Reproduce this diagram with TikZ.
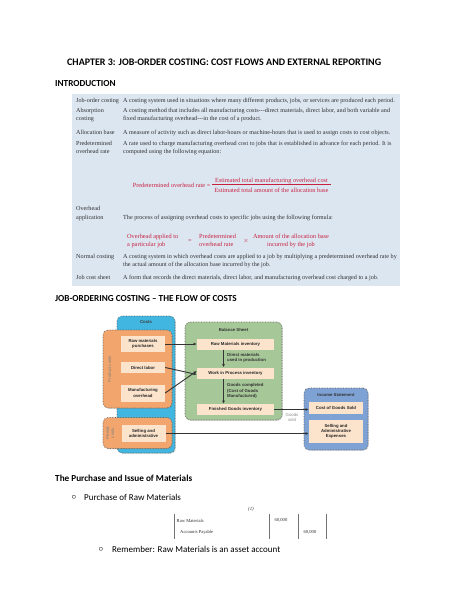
\documentclass[tikz,border=0pt]{standalone}
\usepackage{fontspec}
\setmainfont{Carlito}
\newfontfamily\tnr{Liberation Serif}
\newfontfamily\arl{Liberation Sans}
\usetikzlibrary{arrows.meta,shadows}
\definecolor{tblue}{HTML}{DCE6F1}
\definecolor{fred}{HTML}{C8203F}
\definecolor{costblue}{HTML}{41B6E0}
\definecolor{porange}{HTML}{F2A56C}
\definecolor{cream}{HTML}{FCE4CC}
\definecolor{bgreen}{HTML}{A6C797}
\definecolor{iblue}{HTML}{7FA2D5}
\definecolor{txtgray}{HTML}{2F2F2F}
\begin{document}
\begin{tikzpicture}[x=1pt,y=-1pt,
  hd/.style={anchor=west,inner sep=0,font=\bfseries\fontsize{10}{12}\selectfont},
  body/.style={anchor=west,inner sep=0,font=\fontsize{9}{11}\selectfont},
  tt/.style={anchor=west,inner sep=0,text height=4.3pt,text depth=1.3pt,text=txtgray,font=\tnr\fontsize{6.15}{7}\selectfont},
  rf/.style={inner sep=0,text height=4.4pt,text depth=1.3pt,text=fred,font=\tnr\fontsize{6.3}{7}\selectfont},
  box/.style={draw=black!65,densely dotted,line width=0.6pt,rounded corners=5pt,drop shadow={opacity=0.25,shadow xshift=0.8pt,shadow yshift=-0.8pt}},
  inner/.style={fill=cream,inner sep=0,align=center,text=black!85,font=\arl\bfseries\fontsize{4.3}{5.2}\selectfont},
  lbl/.style={inner sep=0,align=center,text=black!80,font=\arl\bfseries\fontsize{4.3}{5.2}\selectfont},
  side/.style={inner sep=0,align=center,rotate=90,text=black!50,font=\arl\fontsize{4.3}{5}\selectfont},
  arr/.style={-{Latex[length=3.2pt,width=2.8pt]},line width=0.9pt,draw=black!80},
  jt/.style={inner sep=0,text=txtgray,font=\tnr\fontsize{4.6}{5.5}\selectfont}
]
\useasboundingbox (0,0) rectangle (474,613);
\fill[white] (0,0) rectangle (474,613);

% ---------- headings ----------
\node[hd] (title) at (67,62.5) {CHAPTER 3: JOB-ORDER COSTING: COST FLOWS AND EXTERNAL REPORTING};
\node[hd,font=\bfseries\fontsize{9.2}{11}\selectfont] (intro) at (55,84) {INTRODUCTION};

% ---------- definitions table ----------
\fill[tblue] (72,94) rectangle (400,286);
\node[tt] (t1) at (76,100.5) {Job-order costing};
\node[tt] (d1) at (123,100.5) {A costing system used in situations where many different products, jobs, or services are produced each period.};
\node[tt] (t2a) at (76,110.7) {Absorption};
\node[tt] (t2b) at (76,119) {costing};
\node[tt] (d2a) at (123,110.7) {A costing method that includes all manufacturing costs---direct materials, direct labor, and both variable and};
\node[tt] (d2b) at (123,119) {fixed manufacturing overhead---in the cost of a product.};
\node[tt] (t3) at (76,133) {Allocation base};
\node[tt] (d3) at (123,133) {A measure of activity such as direct labor-hours or machine-hours that is used to assign costs to cost objects.};
\node[tt] (t4a) at (76,143.5) {Predetermined};
\node[tt] (t4b) at (76,152) {overhead rate};
\node[tt] (d4a) at (123,143.5) {A rate used to charge manufacturing overhead cost to jobs that is established in advance for each period. It is};
\node[tt] (d4b) at (123,152) {computed using the following equation:};
% formula 1
\node[rf,anchor=east] (f1l) at (210.5,185.5) {Predetermined overhead rate =};
\node[rf,minimum width=119] (f1n) at (271.5,180.8) {Estimated total manufacturing overhead cost};
\node[rf,minimum width=119] (f1d) at (271.5,190.6) {Estimated total amount of the allocation base};
\draw[fred,line width=0.4pt] ([yshift=-0.6pt]f1n.south west) -- ([yshift=-0.6pt]f1n.south east);
\node[tt] (t5a) at (76,209) {Overhead};
\node[tt] (t5b) at (76,217.5) {application};
\node[tt] (d5) at (123,217.5) {The process of assigning overhead costs to specific jobs using the following formula:};
% formula 2
\node[rf,anchor=west] (f2a) at (127,236.5) {Overhead applied to};
\node[rf,anchor=west] (f2b) at (127,245) {a particular job};
\node[rf] (f2eq) at (190,241) {=};
\node[rf,anchor=west] (f2c) at (199,236.5) {Predetermined};
\node[rf,anchor=west] (f2d) at (199,245) {overhead rate};
\node[rf] (f2x) at (246,241) {$\times$};
\node[rf] (f2e) at (291,236.5) {Amount of the allocation base};
\node[rf] (f2f) at (291,245) {incurred by the job};
\node[tt] (t6) at (76,257) {Normal costing};
\node[tt] (d6a) at (123,257) {A costing system in which overhead costs are applied to a job by multiplying a predetermined overhead rate by};
\node[tt] (d6b) at (123,265) {the actual amount of the allocation base incurred by the job.};
\node[tt] (t7) at (76,277.5) {Job cost sheet};
\node[tt] (d7) at (123,277.5) {A form that records the direct materials, direct labor, and manufacturing overhead cost charged to a job.};

\node[hd,font=\bfseries\fontsize{9.2}{11}\selectfont] (flow) at (55,298.5) {JOB-ORDERING COSTING -- THE FLOW OF COSTS};

% ---------- flow diagram ----------
\node[box,fill=costblue,minimum width=58,minimum height=137] (costs) at (146,384.5) {};
\node[lbl,text=black!75] (costsl) at (146,322) {Costs};
\node[box,fill=porange,minimum width=69,minimum height=78] (prod) at (137.5,369) {};
\node[box,fill=porange,minimum width=69,minimum height=31] (per) at (137.5,433) {};
\node[side] (prodl) at (109.5,369) {Product costs};
\node[side] (perl) at (110,433) {Period\\costs};
\node[inner,minimum width=44,minimum height=16] (rmp) at (143,344) {Raw materials\\purchases};
\node[inner,minimum width=44,minimum height=11] (dl) at (143,367.5) {Direct labor};
\node[inner,minimum width=44,minimum height=17] (mo) at (143,393) {Manufacturing\\overhead};
\node[inner,minimum width=44,minimum height=17] (sa) at (143.5,433.5) {Selling and\\administrative};

\node[box,fill=bgreen,minimum width=97,minimum height=98] (bs) at (233.5,371) {};
\node[lbl] (bsl) at (233.5,330) {Balance Sheet};
\node[inner,minimum width=77,minimum height=11] (rmi) at (235.5,344) {Raw Materials inventory};
\node[inner,minimum width=77,minimum height=11] (wip) at (235.5,373) {Work in Process inventory};
\node[inner,minimum width=77,minimum height=11] (fg) at (235.5,409.5) {Finished Goods inventory};
\node[lbl,anchor=west,align=left] (dm) at (227,357.5) {Direct materials\\used in production};
\node[lbl,anchor=west,align=left] (gc) at (227,391) {Goods completed\\(Cost of Goods\\Manufactured)};

\node[box,fill=iblue,minimum width=64,minimum height=62] (is) at (336,419) {};
\node[lbl,text=black!80] (isl) at (336,395) {Income Statement};
\node[inner,minimum width=54,minimum height=12] (cogs) at (336,408) {Cost of Goods Sold};
\node[inner,minimum width=54,minimum height=23] (sae) at (336,431.5) {Selling and\\Administrative\\Expenses};
\node[lbl,font=\arl\fontsize{4.3}{5.2}\selectfont,text=black!45] (gs) at (292,417.5) {Goods\\sold};

\draw[arr] (rmp.east) -- (rmp.east -| rmi.west);
\draw[arr] (dl.east) -- ([yshift=-1.5pt]wip.west);
\draw[arr] (mo.east) -- ([yshift=2pt]wip.west);
\draw[arr] ([xshift=-12pt]rmi.south) -- ([xshift=-12pt]wip.north);
\draw[arr] ([xshift=-12pt]wip.south) -- ([xshift=-12pt]fg.north);
\draw[arr] (fg.east) -- (fg.east -| cogs.west);
\draw[arr] (sa.east) -- (sa.east -| sae.west);

% ---------- bottom section ----------
\node[hd,font=\bfseries\fontsize{9.2}{11}\selectfont] (pim) at (55,478) {The Purchase and Issue of Materials};
\node[body] (b1) at (71.5,497) {$\circ$};
\node[body] (p1) at (84,497) {Purchase of Raw Materials};
\node[jt,font=\tnr\itshape\fontsize{4.8}{5.5}\selectfont] (j1) at (251,509.5) {(1)};
\coordinate (l1t) at (174,514); \coordinate (l1b) at (174,539);
\coordinate (l2t) at (269,514); \coordinate (l2b) at (269,539);
\coordinate (l3t) at (298,514); \coordinate (l3b) at (298,539);
\coordinate (l4t) at (326,514); \coordinate (l4b) at (326,539);
\draw[black!55,line width=0.4pt] (l1t) -- (l1b);
\draw[black!55,line width=0.4pt] (l2t) -- (l2b);
\draw[black!55,line width=0.4pt] (l3t) -- (l3b);
\draw[black!55,line width=0.4pt] (l4t) -- (l4b);
\node[jt,anchor=west] (rm) at (176.5,521) {Raw Materials};
\node[jt] (v1) at (281,520.5) {60,000};
\node[jt,anchor=west] (ap) at (180,532.5) {Accounts Payable};
\node[jt] (v2) at (310,532.5) {60,000};
\node[body] (b2) at (98.5,549) {$\circ$};
\node[body] (p2) at (112,549) {Remember: Raw Materials is an asset account};
\end{tikzpicture}
\end{document}
